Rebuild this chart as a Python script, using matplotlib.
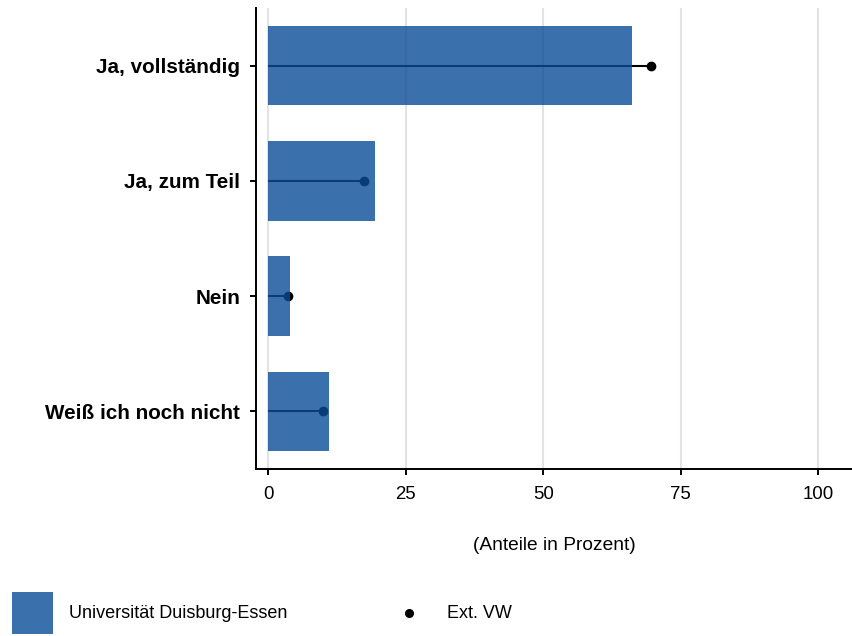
import matplotlib
matplotlib.use("Agg")
import matplotlib.pyplot as plt
from matplotlib.patches import Rectangle
from matplotlib.lines import Line2D
import numpy as np

plt.rcParams['font.family'] = ['Liberation Sans', 'DejaVu Sans']

categories = ["Ja, vollständig", "Ja, zum Teil", "Nein", "Weiß ich noch nicht"]
ude_values = [66.2, 19.5, 4.0, 11.1]
ext_vw_values = [69.6, 17.5, 3.6, 10.0]
x_ticks = [0, 25, 50, 75, 100]
legend_labels = ["Universität Duisburg-Essen", "Ext. VW"]
x_label = "(Anteile in Prozent)"

bar_color = "#094c96"
bar_alpha = 0.8

fig = plt.figure(figsize=(8.53, 6.36), dpi=100)
ax = fig.add_axes([256/853, 1-469/636, 597/853, (469-8)/636])

ypos = np.arange(len(categories))[::-1] + 1

for y, v in zip(ypos, ext_vw_values):
    ax.plot([0, v], [y, y], color="black", lw=1.5, zorder=2, solid_capstyle="butt")
ax.plot(ext_vw_values, ypos, "o", color="black", ms=6, zorder=2)
ax.barh(ypos, ude_values, height=0.69, color=bar_color, alpha=bar_alpha, zorder=3)

ax.set_xlim(-2.2, 106.3)
ax.set_ylim(0.5, 4.5)
ax.set_xticks(x_ticks)
ax.set_xticklabels([str(t) for t in x_ticks], fontsize=13.4)
ax.set_yticks(ypos)
ax.set_yticklabels(categories, fontsize=14.9, fontweight="bold")
ax.xaxis.grid(True, color="#e3e3e3", lw=1.5, zorder=0)
ax.set_axisbelow(True)
for s in ["top", "right"]:
    ax.spines[s].set_visible(False)
for s in ["left", "bottom"]:
    ax.spines[s].set_linewidth(1.4)
    ax.spines[s].set_color("black")
ax.tick_params(axis="both", length=4, width=1.4, color="black")
ax.tick_params(axis="x", pad=8)
ax.tick_params(axis="y", pad=7.5)
ax.set_xlabel(x_label, fontsize=13.8, labelpad=25)

# legend
fig.add_artist(Rectangle((12/853, 1-634/636), 41/853, 42/636, transform=fig.transFigure,
                         facecolor=bar_color, alpha=bar_alpha, edgecolor="none"))
fig.text(69/853, 1-613/636, legend_labels[0], fontsize=13, va="center", ha="left")
fig.add_artist(Line2D([409/853], [1-613/636], transform=fig.transFigure, marker="o",
                      color="black", ms=5.5, ls="none"))
fig.text(447/853, 1-613/636, legend_labels[1], fontsize=13, va="center", ha="left")

fig.savefig("out.png", dpi=100)
